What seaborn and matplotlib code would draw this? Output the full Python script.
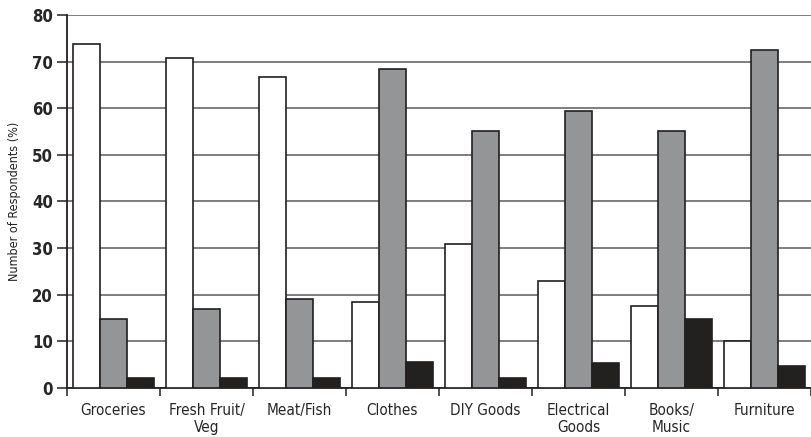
import numpy as np
import pandas as pd
import matplotlib
matplotlib.use("Agg")
import matplotlib.pyplot as plt
import seaborn as sns

# dados
categorias = ["Groceries", "Fresh Fruit/\nVeg", "Meat/Fish", "Clothes",
              "DIY Goods", "Electrical\nGoods", "Books/\nMusic", "Furniture"]
serie_branca = [73.7, 70.8, 66.7, 18.3, 30.8, 22.9, 17.6, 10.1]
serie_cinza = [14.7, 16.9, 19.0, 68.4, 55.0, 59.3, 55.0, 72.4]
serie_preta = [2.1, 2.1, 2.1, 5.6, 2.1, 5.2, 14.8, 4.7]
nomes_series = ["Series 1", "Series 2", "Series 3"]

tabela = pd.DataFrame({
    "categoria": categorias * 3,
    "valor": serie_branca + serie_cinza + serie_preta,
    "serie": [n for n in nomes_series for _ in categorias],
})

sns.set_theme(style="white")
plt.rcParams["font.family"] = ["DejaVu Sans"]
plt.rcParams["font.stretch"] = "condensed"

fig = plt.figure(figsize=(8.11, 4.37), dpi=100)
ax = fig.add_axes([0.0826, 0.1128, 0.9174, 0.8529])

paleta = {"Series 1": "#ffffff", "Series 2": "#939598", "Series 3": "#231f20"}
sns.barplot(data=tabela, x="categoria", y="valor", hue="serie",
            palette=paleta, width=0.865, edgecolor="#231f20", linewidth=1.2,
            legend=False, ax=ax, zorder=3)

ax.set_xlim(-0.5, 7.5)
ax.set_ylim(0, 80)
ax.set_yticks(np.arange(0, 81, 10))
ax.yaxis.grid(True, color="#5a5a5a", linewidth=1.1, zorder=0)
ax.set_axisbelow(True)

# eixos
for lado in ["top", "right"]:
    ax.spines[lado].set_visible(False)
for lado in ["left", "bottom"]:
    ax.spines[lado].set_color("#231f20")
    ax.spines[lado].set_linewidth(1.3)

ax.tick_params(axis="y", which="major", left=True, length=7, width=1.1,
               color="#231f20", labelsize=12, pad=3)
for t in ax.get_yticklabels():
    t.set_fontweight("bold")

# separadores entre categorias
ax.set_xticks(np.arange(-0.5, 8, 1), minor=True)
ax.tick_params(axis="x", which="minor", bottom=True, length=6, width=1.1,
               color="#231f20")
ax.tick_params(axis="x", which="major", bottom=False, labelsize=11, pad=5)

ax.set_xlabel("")
ax.set_ylabel("Number of Respondents (%)", fontsize=9, labelpad=8,
              color="#231f20")

fig.savefig("out.png", dpi=100)
